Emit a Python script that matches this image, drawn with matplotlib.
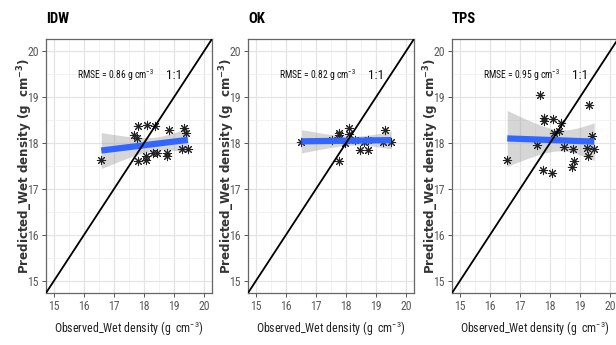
import numpy as np
import matplotlib
matplotlib.use("Agg")
import matplotlib.pyplot as plt
from matplotlib import font_manager

# ---- data ----
panels = ["IDW", "OK", "TPS"]
rmse_labels = ["0.86", "0.82", "0.95"]

idw_obs = [16.58, 17.65, 17.76, 17.80, 17.79, 18.09, 18.06, 18.06, 18.36, 18.44,
           18.28, 18.75, 18.75, 18.83, 19.32, 19.38, 19.27, 19.45]
idw_pred = [17.64, 18.18, 18.11, 18.37, 17.60, 18.39, 17.71, 17.64, 18.37, 17.78,
            17.78, 17.79, 17.71, 18.28, 18.32, 18.21, 17.87, 17.87]

ok_obs = [16.52, 17.54, 17.76, 17.76, 17.76, 18.08, 18.08, 18.30, 18.46, 18.74,
          18.74, 19.21, 19.29, 19.49, 17.95, 18.60]
ok_pred = [18.03, 18.07, 18.21, 18.18, 17.60, 18.32, 18.20, 18.07, 17.85, 17.85,
           18.07, 18.03, 18.28, 18.01, 18.00, 18.02]

tps_obs = [16.58, 17.58, 17.67, 17.80, 17.80, 17.78, 18.05, 18.10, 18.12, 18.31,
           18.36, 18.45, 18.76, 18.73, 18.78, 19.22, 19.27, 19.30, 19.38, 19.46]
tps_pred = [17.62, 17.96, 19.03, 18.53, 18.48, 17.42, 17.35, 18.51, 18.21, 18.25,
            18.44, 17.91, 17.87, 17.47, 17.60, 17.89, 17.71, 18.82, 18.14, 17.87]

obs_sets = [idw_obs, ok_obs, tps_obs]
pred_sets = [idw_pred, ok_pred, tps_pred]
ticks = [15, 16, 17, 18, 19, 20]

# ---- fonts: prefer a condensed face if one is installed ----
weights = {}
for f in font_manager.fontManager.ttflist:
    w = f.weight if isinstance(f.weight, int) else (700 if "bold" in str(f.weight) else 400)
    weights.setdefault(f.name, set()).add(w)

narrow = None
for cand in ["Liberation Sans Narrow", "Roboto Condensed", "DejaVu Sans Condensed",
             "Open Sans Condensed"]:
    if cand in weights:
        narrow = cand
        break
if narrow is None:
    for nm in weights:
        if "Narrow" in nm or "Condensed" in nm:
            narrow = nm
            break
scale = 1.0
if narrow is None:
    narrow = "Liberation Sans"
    scale = 0.78

if any(w >= 600 for w in weights.get(narrow, [])):
    title_family, title_size = narrow, 10.5 * scale
else:
    title_family, title_size = "Liberation Sans", 8.5
wide = "DejaVu Sans"

W, H = 616, 345
fig = plt.figure(figsize=(W / 100, H / 100), dpi=100)

lefts = [46, 248, 452]
ax_w, ax_top, ax_bot = 166, 39, 293
lims = (14.75, 20.25)

for i, name in enumerate(panels):
    l = lefts[i]
    ax = fig.add_axes([l / W, (H - ax_bot) / H, ax_w / W, (ax_bot - ax_top) / H])
    ax.set_xlim(lims)
    ax.set_ylim(lims)
    ax.set_xticks(ticks)
    ax.set_yticks(ticks)
    ax.set_xticks(np.arange(15.5, 20.5, 1.0), minor=True)
    ax.set_yticks(np.arange(15.5, 20.5, 1.0), minor=True)
    ax.grid(which="major", color="#E4E4E4", lw=0.9, zorder=0)
    ax.grid(which="minor", color="#F0F0F0", lw=0.6, zorder=0)
    ax.tick_params(which="minor", length=0)
    ax.tick_params(which="major", length=3, width=0.7, color="#555555",
                   labelsize=8.5 * scale, labelcolor="#5A5A5A", pad=2)
    for lab in ax.get_xticklabels() + ax.get_yticklabels():
        lab.set_family(narrow)
    for s in ax.spines.values():
        s.set_color("#666666")
        s.set_linewidth(0.9)
    ax.set_axisbelow(True)

    x = np.array(obs_sets[i])
    y = np.array(pred_sets[i])
    n = len(x)
    b, a = np.polyfit(x, y, 1)
    xs = np.linspace(x.min(), x.max(), 80)
    yhat = a + b * xs
    resid = y - (a + b * x)
    s = np.sqrt(np.sum(resid ** 2) / (n - 2))
    se = s * np.sqrt(1.0 / n + (xs - x.mean()) ** 2 / np.sum((x - x.mean()) ** 2))
    tval = 2.1
    ax.fill_between(xs, yhat - tval * se, yhat + tval * se, color="#999999",
                    alpha=0.4, lw=0, zorder=2)
    ax.scatter(x, y, marker=(8, 2, 0), s=36, color="#222222", linewidths=0.75,
               zorder=3)
    ax.plot(xs, yhat, color="#3366FF", lw=4.5, solid_capstyle="butt", zorder=4)
    ax.plot(lims, lims, color="black", lw=1.3, zorder=5)

    ax.text(17.05, 19.46, "RMSE = %s g cm$\\mathregular{^{-3}}$" % rmse_labels[i],
            family=narrow, fontsize=6.9 * scale,
            ha="center", va="center", color="#111111")
    ax.text(18.98, 19.46, "1:1", family=narrow,
            fontsize=9.5 * scale, ha="center", va="center", color="#111111")

    fig.text(l / W, 1 - 19 / H, name, family=title_family,
             fontweight="bold", fontsize=title_size, ha="left", va="center")
    fig.text((l - 21) / W, 1 - 166 / H,
             "Predicted_Wet density (g  cm$\\mathregular{^{-3}}$)",
             family=wide, fontweight="bold", fontsize=8.6, rotation=90,
             ha="center", va="center", color="#333333")
    fig.text((l + ax_w / 2) / W, 1 - 329 / H,
             "Observed_Wet density (g  cm$\\mathregular{^{-3}}$)",
             family=narrow, fontsize=9.2 * scale * 0.93,
             ha="center", va="center", color="#222222")

fig.savefig("out.png", dpi=100)
